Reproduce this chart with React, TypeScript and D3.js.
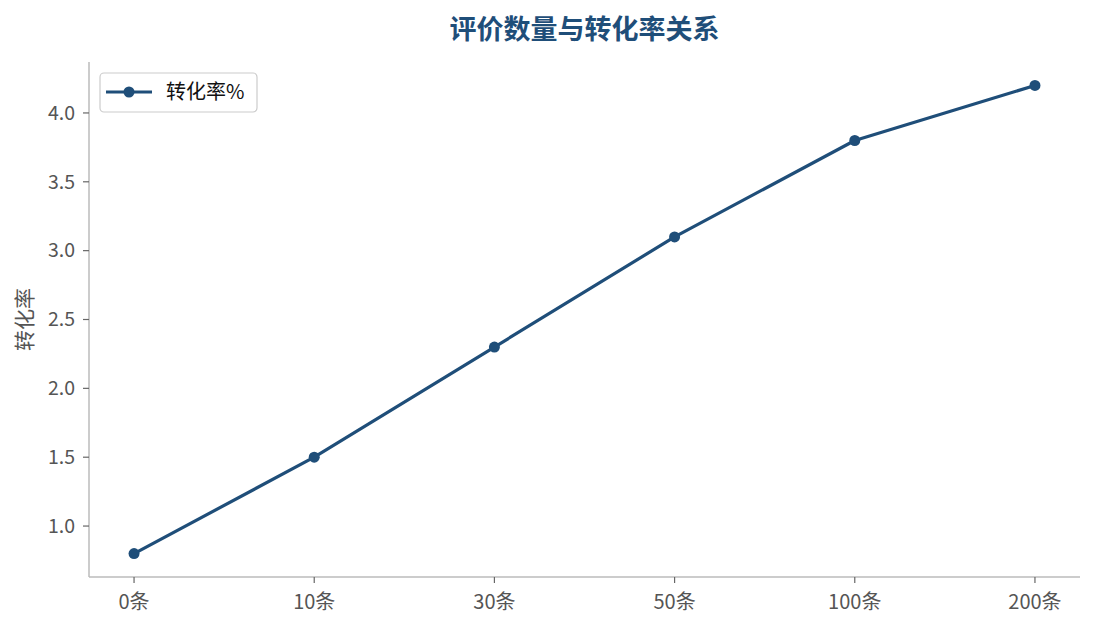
import React from "react";
import * as d3 from "d3";

const categories = ["0条", "10条", "30条", "50条", "100条", "200条"];
const values = [0.8, 1.5, 2.3, 3.1, 3.8, 4.2];
const yTicks = [1.0, 1.5, 2.0, 2.5, 3.0, 3.5, 4.0];
const seriesName = "转化率%";
const title = "评价数量与转化率关系";
const yLabel = "转化率";

const W = 1095, H = 630;
const left = 89, right = 1080, top = 62, bottom = 577;
const color = "#1f4e79";
const font = "'Noto Sans CJK SC', 'Noto Sans', sans-serif";

export default function App() {
  const x = d3.scaleLinear().domain([-0.25, categories.length - 0.75]).range([left, right]);
  const y = d3.scaleLinear().domain([0.63, 4.37]).range([bottom, top]);
  const line = d3.line<number>().x((_, i) => x(i)).y((d) => y(d));
  return (
    <svg width={W} height={H} style={{ position: "absolute", left: 0, top: 0, background: "#fff" }} fontFamily={font}>
      <text x={(left + right) / 2} y={39} textAnchor="middle" fontSize={27} fontWeight="bold" fill={color}>{title}</text>
      <line x1={left} x2={left} y1={top} y2={bottom} stroke="#bbb" strokeWidth={1.5} />
      <line x1={left} x2={right} y1={bottom} y2={bottom} stroke="#bbb" strokeWidth={1.5} />
      {yTicks.map((t) => (
        <g key={t}>
          <line x1={left - 6} x2={left} y1={y(t)} y2={y(t)} stroke="#666" strokeWidth={1.2} />
          <text x={left - 14} y={y(t)} dy="0.35em" textAnchor="end" fontSize={19.5} fill="#555">{t.toFixed(1)}</text>
        </g>
      ))}
      {categories.map((c, i) => (
        <g key={c}>
          <line x1={x(i)} x2={x(i)} y1={bottom} y2={bottom + 6} stroke="#666" strokeWidth={1.2} />
          <text x={x(i)} y={609} textAnchor="middle" fontSize={20} fill="#555">{c}</text>
        </g>
      ))}
      <text transform={`translate(32, ${(top + bottom) / 2}) rotate(-90)`} textAnchor="middle" fontSize={21} fill="#555">{yLabel}</text>
      <path d={line(values) || ""} fill="none" stroke={color} strokeWidth={3.2} strokeLinejoin="round" />
      {values.map((v, i) => (
        <circle key={i} cx={x(i)} cy={y(v)} r={5.5} fill={color} />
      ))}
      <g>
        <rect x={100} y={73} width={157} height={39} rx={4} fill="#fff" stroke="#ccc" strokeWidth={1.2} />
        <line x1={106} x2={152} y1={92} y2={92} stroke={color} strokeWidth={3.2} />
        <circle cx={129} cy={92} r={5.5} fill={color} />
        <text x={166} y={92} dy="0.35em" fontSize={20} fill="#111">{seriesName}</text>
      </g>
    </svg>
  );
}
